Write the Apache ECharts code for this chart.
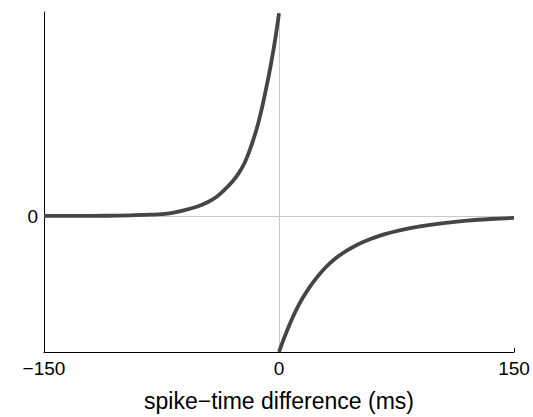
<!DOCTYPE html>
<html>
<head>
<meta charset="utf-8">
<script src="https://cdn.jsdelivr.net/npm/echarts@6/dist/echarts.min.js"></script>
<style>
  html, body { margin: 0; padding: 0; background: #fff; }
  #chart { width: 533px; height: 417px; }
</style>
</head>
<body>
<div id="chart"></div>
<script>
  // pre-before-post branch (negative spike-time difference)
  const leftT = [-150, -130, -110, -95, -82, -70, -61, -52, -45, -40, -35, -30, -26, -22, -18.5, -14.5, -12, -10, -8, -6.4, -4, -2, 0]
  const leftW = [0.0002, 0.0007, 0.002, 0.005, 0.0095, 0.02, 0.041, 0.07, 0.105, 0.14, 0.19, 0.25, 0.31, 0.39, 0.49, 0.63, 0.74, 0.84, 0.95, 1.04, 1.19, 1.33, 1.49]
  // post-before-pre branch (positive spike-time difference)
  const rightT = [0, 2.5, 5, 8, 11, 15, 20, 25, 30, 36, 43, 50, 58, 67, 77, 90, 105, 120, 135, 150]
  const rightW = [-1, -0.92, -0.847, -0.765, -0.69, -0.605, -0.515, -0.44, -0.375, -0.312, -0.256, -0.211, -0.171, -0.135, -0.105, -0.077, -0.052, -0.034, -0.022, -0.014]

  const xTicks = [-150, 0, 150]
  const yTicks = [0]

  const pair = (xs, ys) => xs.map((x, i) => [x, ys[i]])
  const fmt = (v) => (v < 0 ? '\u2212' + Math.abs(v) : String(v))

  const chart = echarts.init(document.getElementById('chart'), null, { renderer: 'svg' })

  const curveStyle = { width: 3.8, color: '#454545', cap: 'butt', join: 'round' }
  const font = 'Liberation Sans'

  chart.setOption({
    animation: false,
    backgroundColor: '#fff',
    grid: { left: 44, right: 19, top: 12, bottom: 62 },
    xAxis: {
      type: 'value',
      min: -150,
      max: 150,
      interval: 150,
      name: 'spike\u2212time difference (ms)',
      nameLocation: 'middle',
      nameGap: 37,
      nameTextStyle: { color: '#000', fontSize: 23, fontFamily: font },
      axisLine: { onZero: false, lineStyle: { color: '#000', width: 1 } },
      axisTick: { inside: true, length: 4, lineStyle: { color: '#000' } },
      axisLabel: {
        color: '#000',
        fontSize: 19,
        fontFamily: font,
        margin: 7,
        formatter: (v) => (xTicks.includes(v) ? fmt(v) : '')
      },
      splitLine: { show: false }
    },
    yAxis: {
      type: 'value',
      min: -1,
      max: 1.5,
      interval: 0.5,
      axisLine: { show: true, onZero: false, lineStyle: { color: '#000', width: 1 } },
      axisTick: { show: false },
      axisLabel: {
        color: '#000',
        fontSize: 19,
        fontFamily: font,
        margin: 6,
        formatter: (v) => (yTicks.includes(v) ? String(v) : '')
      },
      splitLine: { show: false }
    },
    series: [
      {
        type: 'line',
        data: pair(leftT, leftW),
        smooth: 0.4,
        showSymbol: false,
        lineStyle: curveStyle,
        z: 3,
        markLine: {
          silent: true,
          symbol: 'none',
          label: { show: false },
          lineStyle: { color: '#c8c8c8', width: 1, type: 'solid' },
          data: [{ yAxis: 0 }, { xAxis: 0 }],
          z: 1
        }
      },
      {
        type: 'line',
        data: pair(rightT, rightW),
        smooth: 0.4,
        showSymbol: false,
        lineStyle: curveStyle,
        z: 3
      }
    ]
  })
</script>
</body>
</html>
